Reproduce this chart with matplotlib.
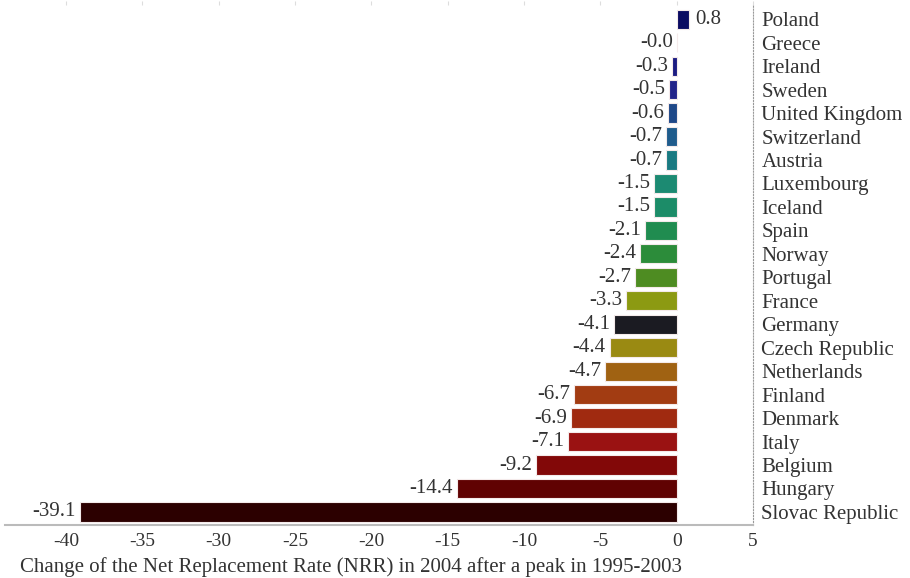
import matplotlib.pyplot as plt

# --- data (top to bottom as in the chart) ---
countries = ['Poland', 'Greece', 'Ireland', 'Sweden', 'United Kingdom', 'Switzerland',
             'Austria', 'Luxembourg', 'Iceland', 'Spain', 'Norway', 'Portugal', 'France',
             'Germany', 'Czech Republic', 'Netherlands', 'Finland', 'Denmark', 'Italy',
             'Belgium', 'Hungary', 'Slovac Republic']
values = [0.8, -0.0, -0.3, -0.5, -0.6, -0.7, -0.7, -1.5, -1.5, -2.1, -2.4, -2.7, -3.3,
          -4.1, -4.4, -4.7, -6.7, -6.9, -7.1, -9.2, -14.4, -39.1]
colors = ['#0b0b62', '#c8c8e0', '#1c1c82', '#22248a', '#1e4888', '#1f5c8c',
          '#1a7a82', '#1c8a72', '#1c8c68', '#208c50', '#2c8c3a', '#4e8c22', '#8c9a12',
          '#1b1b22', '#9a8a12', '#a06212', '#a23c12', '#a02a10', '#9a1212',
          '#820808', '#600202', '#2c0000']

xticks = [-40, -35, -30, -25, -20, -15, -10, -5, 0, 5]

plt.rcParams['font.family'] = ['Liberation Serif', 'DejaVu Serif']

fig = plt.figure(figsize=(9.10, 5.78), dpi=100)
ax = fig.add_axes([0.0055, 0.092, 0.822, 0.899])

n = len(countries)
ypos = list(range(n - 1, -1, -1))
ax.barh(ypos, values, height=0.82, color=colors, edgecolor='#f4eaea', linewidth=0.8)

for y, v in zip(ypos, values):
    txt = f'{v:.1f}'
    if v > 0:
        ax.text(v + 0.4, y, txt, ha='left', va='center', fontsize=15, color='#333333')
    else:
        ax.text(v - 0.25, y, txt, ha='right', va='center', fontsize=15, color='#333333')

ax.set_xlim(-44, 5)
ax.set_ylim(-0.55, n - 0.4)
ax.set_xticks(xticks)
ax.set_xticklabels([str(t) for t in xticks], fontsize=14, color='#333333')
ax.set_yticks(ypos)
ax.set_yticklabels(countries, fontsize=15, color='#333333')

ax.yaxis.tick_right()
ax.tick_params(axis='y', length=0, pad=6)
# faint marks along the top edge, none at the bottom
ax.tick_params(axis='x', which='major', top=True, bottom=False, labeltop=False,
               length=3, color='#dddddd', pad=3)

ax.spines['left'].set_visible(False)
ax.spines['top'].set_visible(False)
ax.spines['right'].set_linestyle(':')
ax.spines['right'].set_color('#999999')
ax.spines['bottom'].set_color('#bbbbbb')
ax.spines['bottom'].set_linewidth(1.5)

fig.text(0.022, 0.002,
         'Change of the Net Replacement Rate (NRR) in 2004 after a peak in 1995-2003',
         fontsize=15, color='#333333', ha='left', va='bottom')

fig.savefig('out.png', dpi=100)
